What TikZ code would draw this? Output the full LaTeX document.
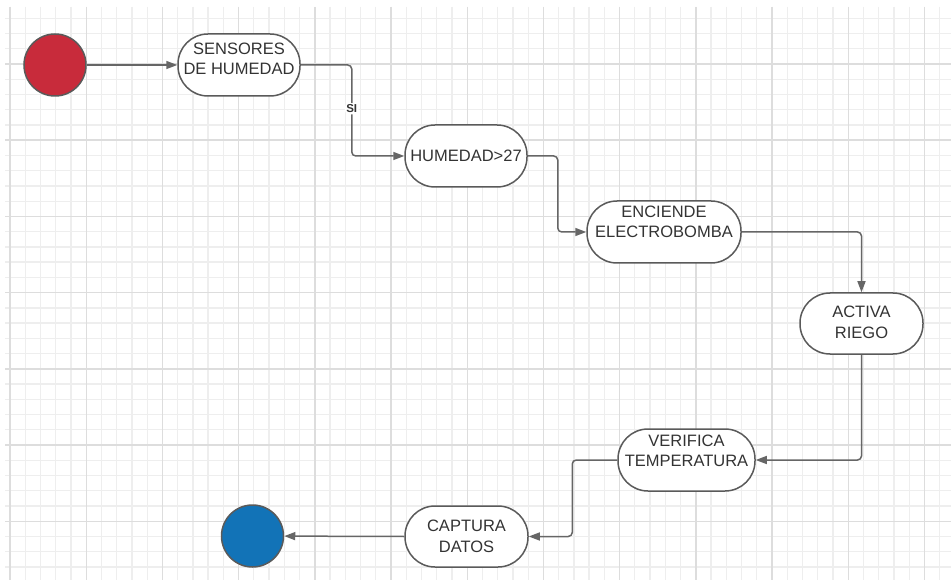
\documentclass[tikz,border=0pt]{standalone}
\usepackage{fontspec}
\setmainfont{Liberation Sans}
\usetikzlibrary{arrows.meta}

\definecolor{gridminor}{HTML}{EEEEEE}
\definecolor{gridmajor}{HTML}{DDDDDD}
\definecolor{edgegray}{HTML}{5A5A5A}
\definecolor{flowgray}{HTML}{666666}
\definecolor{txtgray}{HTML}{333333}
\definecolor{startred}{HTML}{C82B3B}
\definecolor{endblue}{HTML}{1273B7}

\tikzset{
  stadium/.style={draw=edgegray, line width=1.5pt, fill=white,
    rounded corners=30pt, minimum height=62pt, inner sep=0pt},
  txt/.style={text=txtgray, align=center, inner sep=0pt,
    font=\fontsize{16.5}{20.5}\selectfont},
  terminal/.style={circle, draw=edgegray, line width=1.5pt,
    minimum size=62pt, inner sep=0pt},
  flow/.style={draw=flowgray, line width=1.5pt, rounded corners=4pt,
    -{Triangle[length=11pt,width=8pt]}},
  guard/.style={fill=white, text=txtgray, inner sep=1.5pt,
    font=\fontsize{11.5}{13}\selectfont\bfseries},
}

\begin{document}
\begin{tikzpicture}[x=1pt, y=-1pt]
\useasboundingbox (0,0) rectangle (951,580);
\fill[white] (0,0) rectangle (951,580);

% background grid
\begin{scope}
  \clip (5,7) rectangle (951,580);
  \foreach \k in {0,...,61} {
    \pgfmathsetmacro{\gx}{10+15.24*\k}
    \draw[gridminor, line width=1.3pt] (\gx,7) -- (\gx,580);
  }
  \foreach \k in {0,...,36} {
    \pgfmathsetmacro{\gy}{18.3+15.24*\k}
    \draw[gridminor, line width=1.3pt] (5,\gy) -- (951,\gy);
  }
  \foreach \k in {0,...,12} {
    \pgfmathsetmacro{\gx}{10+76.2*\k}
    \draw[gridmajor, line width=1.4pt] (\gx,7) -- (\gx,580);
  }
  \foreach \k in {0,...,6} {
    \pgfmathsetmacro{\gy}{64+76.2*\k}
    \draw[gridmajor, line width=1.4pt] (5,\gy) -- (951,\gy);
  }
\end{scope}

% start and end states
\node[terminal, fill=startred] (start) at (55,65) {};
\node[terminal, fill=endblue]  (stop)  at (252.5,536) {};

% activity boxes
\node[stadium, minimum width=122pt] (s1) at (239,65) {};
\node[txt] (s1t) at ([yshift=6pt]s1.center) {SENSORES\\DE HUMEDAD};

\node[stadium, minimum width=122pt] (s2) at (466,156) {};
\node[txt] (s2t) at (s2.center) {HUMEDAD>27};

\node[stadium, minimum width=154pt] (s3) at (664,232) {};
\node[txt] (s3t) at ([yshift=10pt]s3.center) {ENCIENDE\\ELECTROBOMBA};

\node[stadium, minimum width=123pt, minimum height=61pt] (s4) at (861.5,323.5) {};
\node[txt] (s4t) at ([yshift=1pt]s4.center) {ACTIVA\\RIEGO};

\node[stadium, minimum width=137pt] (s5) at (686.5,460) {};
\node[txt] (s5t) at ([yshift=9pt]s5.center) {VERIFICA\\TEMPERATURA};

\node[stadium, minimum width=123pt, minimum height=61pt] (s6) at (466.5,536.5) {};
\node[txt] (s6t) at (s6.center) {CAPTURA\\DATOS};

% transitions
\draw[flow] (start) -- (s1);
\draw[flow] (s1.east) -- ++(51,0) |- node[guard, pos=0.24] (g1) {SI} (s2.west);
\draw[flow] (s2.east) -- ++(30,0) |- (s3.west);
\draw[flow] (s3.east) -| (s4.north);
\draw[flow] (s4.south) |- (s5.east);
\draw[flow] (s5.west) -- ++(-45,0) |- (s6.east);
\draw[flow] (s6.west) -- (stop);
\end{tikzpicture}
\end{document}
